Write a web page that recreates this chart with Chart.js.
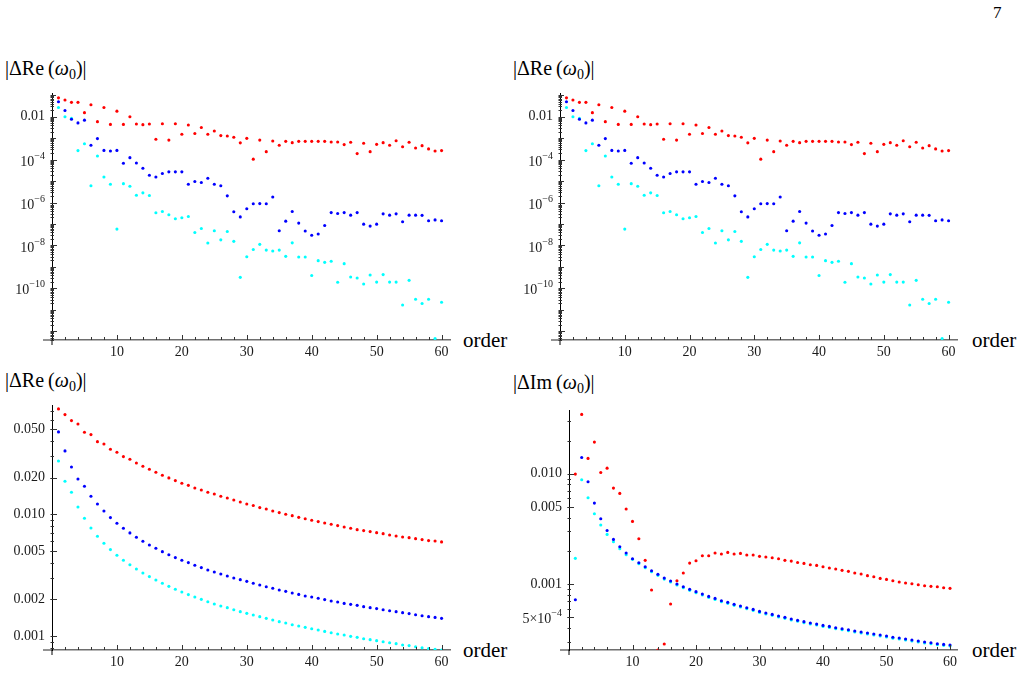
<!DOCTYPE html>
<html>
<head>
<meta charset="utf-8">
<script src="https://cdn.jsdelivr.net/npm/chart.js@4.4.0/dist/chart.umd.min.js"></script>
<style>
  body { margin: 0; background: #fff; width: 1028px; height: 676px; position: relative; overflow: hidden;
         font-family: "Liberation Serif", "DejaVu Serif", serif; color: #000; }
  canvas { position: absolute; }
  .lbl { position: absolute; white-space: nowrap; line-height: 1; }
  .ylab { font-size: 20px; }
  .ylab sub { font-size: 14px; vertical-align: -4px; line-height: 0; }
  .xlab { font-size: 21px; }
</style>
</head>
<body>
<div class="lbl" style="left:993px;top:4px;font-size:17px">7</div>

<div class="lbl ylab" style="left:5px;top:58px">|ΔRe&#8201;(<i>ω</i><sub>0</sub>)|</div>
<div class="lbl ylab" style="left:513px;top:58px">|ΔRe&#8201;(<i>ω</i><sub>0</sub>)|</div>
<div class="lbl ylab" style="left:5px;top:370px">|ΔRe&#8201;(<i>ω</i><sub>0</sub>)|</div>
<div class="lbl ylab" style="left:513px;top:372px">|ΔIm&#8201;(<i>ω</i><sub>0</sub>)|</div>

<div class="lbl xlab" style="left:463px;top:330px">order</div>
<div class="lbl xlab" style="left:972px;top:330px">order</div>
<div class="lbl xlab" style="left:463px;top:640px">order</div>
<div class="lbl xlab" style="left:972px;top:640px">order</div>

<canvas id="tl"></canvas>
<canvas id="tr"></canvas>
<canvas id="bl"></canvas>
<canvas id="br"></canvas>

<script>
// perturbation order on the x axis
const orders = [1,2,3,4,5,6,7,8,9,10,11,12,13,14,15,16,17,18,19,20,
                21,22,23,24,25,26,27,28,29,30,31,32,33,34,35,36,37,38,39,40,
                41,42,43,44,45,46,47,48,49,50,51,52,53,54,55,56,57,58,59,60];

// values are log10 of the plotted quantity

// top row (both top panels show the same points): |ΔRe(ω0)|
const topRed = [-1.12,-1.22,-1.33,-1.33,-1.81,-1.44,-2.23,-1.57,-2.36,-1.74,
                -2.36,-2.00,-2.34,-2.37,-2.34,-3.05,-2.33,-3.09,-2.33,-2.82,
                -2.39,-2.78,-2.50,-2.82,-2.67,-2.88,-2.90,-2.96,-3.22,-3.01,
                -3.98,-3.09,-3.63,-3.13,-3.33,-3.15,-3.21,-3.15,-3.15,-3.15,
                -3.15,-3.15,-3.18,-3.18,-3.30,-3.19,-3.72,-3.24,-3.63,-3.29,
                -3.21,-3.33,-3.12,-3.40,-3.19,-3.46,-3.35,-3.50,-3.60,-3.58];
const topBlue = [-1.30,-1.71,-2.12,-2.29,-2.16,-3.33,-3.02,-3.57,-3.60,-3.57,
                 -4.17,-3.91,-4.16,-4.40,-4.73,-4.81,-4.65,-4.57,-4.57,-4.57,
                 -5.15,-5.02,-5.07,-4.87,-5.15,-5.22,-5.69,-6.43,-6.67,-6.29,
                 -6.06,-6.05,-6.06,-5.74,-7.32,-6.87,-6.42,-6.96,-7.33,-7.53,
                 -7.47,-7.07,-6.47,-6.51,-6.47,-6.59,-6.47,-7.01,-7.10,-7.01,
                 -6.53,-6.59,-6.53,-6.90,-6.59,-6.59,-6.60,-6.85,-6.81,-6.85];
const topCyan = [-1.57,-2.00,-2.08,-3.58,-3.26,-5.22,-3.83,-4.81,-5.15,-7.24,
                 -5.12,-5.24,-5.66,-5.55,-5.67,-6.48,-6.42,-6.57,-6.76,-6.71,
                 -6.65,-7.40,-7.21,-7.89,-7.32,-7.74,-7.35,-7.81,-9.49,-8.53,
                 -8.19,-7.95,-8.22,-8.26,-8.22,-8.51,-7.88,-8.54,-8.54,-9.40,
                 -8.71,-8.79,-8.74,-9.72,-8.85,-9.47,-9.52,-9.80,-9.38,-9.71,
                 -9.36,-9.71,-9.71,-10.78,-9.63,-10.51,-10.71,-10.51,-12.34,-10.65];

// bottom left: |ΔRe(ω0)|
const blRed = [-1.134,-1.181,-1.230,-1.258,-1.326,-1.345,-1.403,-1.422,-1.466,-1.490,
               -1.526,-1.548,-1.578,-1.605,-1.630,-1.655,-1.679,-1.701,-1.723,-1.745,
               -1.762,-1.784,-1.800,-1.819,-1.833,-1.852,-1.866,-1.882,-1.899,-1.915,
               -1.928,-1.945,-1.956,-1.973,-1.986,-2.000,-2.011,-2.025,-2.036,-2.049,
               -2.060,-2.071,-2.082,-2.093,-2.104,-2.115,-2.126,-2.134,-2.142,-2.151,
               -2.159,-2.170,-2.178,-2.186,-2.192,-2.200,-2.208,-2.216,-2.219,-2.227];
const blBlue = [-1.323,-1.479,-1.611,-1.710,-1.770,-1.852,-1.915,-1.973,-2.027,-2.074,
                -2.115,-2.153,-2.189,-2.222,-2.252,-2.279,-2.307,-2.332,-2.356,-2.378,
                -2.397,-2.419,-2.438,-2.458,-2.474,-2.490,-2.507,-2.523,-2.537,-2.551,
                -2.567,-2.581,-2.595,-2.608,-2.622,-2.633,-2.647,-2.658,-2.671,-2.679,
                -2.690,-2.701,-2.712,-2.721,-2.732,-2.740,-2.748,-2.759,-2.767,-2.775,
                -2.784,-2.792,-2.800,-2.808,-2.816,-2.825,-2.833,-2.841,-2.847,-2.855];
const blCyan = [-1.562,-1.729,-1.819,-1.940,-2.033,-2.112,-2.181,-2.238,-2.290,-2.337,
                -2.378,-2.414,-2.449,-2.482,-2.512,-2.540,-2.567,-2.592,-2.616,-2.638,
                -2.660,-2.679,-2.699,-2.718,-2.737,-2.753,-2.767,-2.784,-2.800,-2.814,
                -2.827,-2.841,-2.855,-2.868,-2.882,-2.893,-2.907,-2.918,-2.929,-2.940,
                -2.951,-2.962,-2.973,-2.984,-2.992,-3.003,-3.011,-3.022,-3.030,-3.038,
                -3.047,-3.055,-3.063,-3.074,-3.079,-3.088,-3.096,-3.104,-3.110,-3.115];

// bottom right: |ΔIm(ω0)|
const brRed = [-2.003,-1.462,-1.861,-1.713,-1.988,-1.949,-2.130,-2.178,-2.320,-2.432,
               -2.589,-2.785,-3.054,-3.598,-3.544,-3.181,-2.970,-2.900,-2.810,-2.789,
               -2.743,-2.743,-2.719,-2.728,-2.713,-2.728,-2.722,-2.737,-2.737,-2.749,
               -2.755,-2.761,-2.770,-2.785,-2.792,-2.804,-2.813,-2.825,-2.831,-2.843,
               -2.855,-2.864,-2.876,-2.885,-2.900,-2.909,-2.924,-2.934,-2.949,-2.958,
               -2.970,-2.982,-2.991,-2.997,-3.006,-3.015,-3.021,-3.024,-3.033,-3.039];
const brBlue = [-3.142,-1.852,-2.073,-2.266,-2.408,-2.514,-2.595,-2.662,-2.719,-2.770,
                -2.807,-2.843,-2.879,-2.912,-2.946,-2.973,-3.000,-3.024,-3.048,-3.069,
                -3.091,-3.112,-3.130,-3.151,-3.166,-3.184,-3.199,-3.215,-3.230,-3.248,
                -3.263,-3.275,-3.290,-3.302,-3.317,-3.329,-3.341,-3.353,-3.363,-3.375,
                -3.384,-3.396,-3.405,-3.414,-3.426,-3.435,-3.444,-3.453,-3.462,-3.471,
                -3.483,-3.489,-3.498,-3.508,-3.517,-3.526,-3.532,-3.541,-3.547,-3.553];
const brCyan = [-2.767,-2.054,-2.218,-2.363,-2.465,-2.550,-2.616,-2.680,-2.734,-2.776,
                -2.815,-2.852,-2.889,-2.921,-2.955,-2.982,-3.009,-3.033,-3.057,-3.078,
                -3.100,-3.121,-3.139,-3.160,-3.175,-3.193,-3.208,-3.224,-3.239,-3.257,
                -3.272,-3.284,-3.299,-3.311,-3.326,-3.338,-3.350,-3.362,-3.372,-3.384,
                -3.393,-3.405,-3.414,-3.423,-3.435,-3.444,-3.453,-3.462,-3.471,-3.480,
                -3.492,-3.498,-3.507,-3.517,-3.526,-3.535,-3.541,-3.550,-3.556,-3.562];

// tick labels: a plain string, or [base, superscript]
const xTicks = [10, 20, 30, 40, 50, 60];
const topYTicks = [1e-2, 1e-4, 1e-6, 1e-8, 1e-10];
const topYLabels = ["0.01", ["10", "\u22124"], ["10", "\u22126"], ["10", "\u22128"], ["10", "\u221210"]];
const blYTicks = [0.05, 0.02, 0.01, 0.005, 0.002, 0.001];
const blYLabels = ["0.050", "0.020", "0.010", "0.005", "0.002", "0.001"];
const brYTicks = [0.01, 0.005, 0.001, 5e-4];
const brYLabels = ["0.010", "0.005", "0.001", ["5\u00d710", "\u22124"]];

const RED = "#ff0000", BLUE = "#0000ff", CYAN = "#00ffff";
const SERIF = '"Liberation Serif", "DejaVu Serif", serif';

function toPoints(exps) {
  return exps.map((e, i) => ({ x: orders[i], y: Math.pow(10, e) }));
}

// minor log ticks 2..9 x 10^k inside [lo, hi]
function logMinor(lo, hi) {
  const out = [];
  for (let k = Math.floor(Math.log10(lo)); k <= Math.ceil(Math.log10(hi)); k++) {
    for (let m = 2; m <= 9; m++) {
      const v = m * Math.pow(10, k);
      if (v >= lo && v <= hi) out.push(v);
    }
  }
  return out;
}

// Mathematica-style axes: ticks pointing into the plot, crossed corner, superscript labels
const mmaAxes = {
  id: "mmaAxes",
  afterDraw(chart, args, opts) {
    const { ctx, chartArea: a, scales } = chart;
    const x = scales.x, y = scales.y;
    ctx.save();

    // little overshoot of both axes at the corner
    ctx.lineWidth = 1.5;
    ctx.strokeStyle = "#6e6e6e";
    ctx.beginPath();
    ctx.moveTo(a.left - 9, a.bottom);
    ctx.lineTo(a.left, a.bottom);
    ctx.stroke();
    ctx.lineWidth = 1;
    ctx.strokeStyle = "#000";
    ctx.beginPath();
    ctx.moveTo(a.left, a.bottom);
    ctx.lineTo(a.left, a.bottom + 5);
    ctx.stroke();

    ctx.strokeStyle = "#333";
    ctx.beginPath();
    for (let v = 2; v <= 60; v += 2) {
      const px = Math.round(x.getPixelForValue(v)) + 0.5;
      const len = v % 10 === 0 ? 5 : 3;
      ctx.moveTo(px, a.bottom);
      ctx.lineTo(px, a.bottom - len);
    }
    const tick = (v, len) => {
      const py = Math.round(y.getPixelForValue(v)) + 0.5;
      ctx.moveTo(a.left - 1.5, py);
      ctx.lineTo(a.left + len, py);
    };
    opts.major.forEach(v => tick(v, 5));
    (opts.mid || []).forEach(v => tick(v, 4));
    opts.minor.forEach(v => tick(v, 2));
    ctx.stroke();

    // y tick labels
    ctx.fillStyle = "#1a1a1a";
    ctx.textBaseline = "middle";
    ctx.textAlign = "left";
    opts.ticks.forEach((v, i) => {
      const lab = opts.labels[i];
      const py = y.getPixelForValue(v);
      const right = a.left - 7;
      if (typeof lab === "string") {
        ctx.font = "14px " + SERIF;
        ctx.fillText(lab, right - ctx.measureText(lab).width, py);
      } else {
        ctx.font = "10px " + SERIF;
        const sw = ctx.measureText(lab[1]).width;
        ctx.font = "14px " + SERIF;
        const bw = ctx.measureText(lab[0]).width;
        ctx.fillText(lab[0], right - sw - bw, py + 2.5);
        ctx.font = "10px " + SERIF;
        ctx.fillText(lab[1], right - sw, py - 3.5);
      }
    });
    ctx.restore();
  }
};

function makePanel(id, p) {
  const YW = 60, XH = 26, PT = 14, PR = 14;
  const cv = document.getElementById(id);
  cv.width = p.r - p.l + YW + PR;
  cv.height = p.b - p.t + PT + XH;
  cv.style.left = (p.l - YW) + "px";
  cv.style.top = (p.t - PT) + "px";

  const ds = (vals, color) => ({
    data: toPoints(vals),
    backgroundColor: color,
    pointBackgroundColor: color,
    pointBorderWidth: 0,
    pointRadius: 1.55,
    pointHoverRadius: 1.55
  });

  const yMin = Math.pow(10, p.yMin), yMax = Math.pow(10, p.yMax);

  return new Chart(cv, {
    type: "scatter",
    data: { datasets: [ds(p.red, RED), ds(p.blue, BLUE), ds(p.cyan, CYAN)] },
    options: {
      responsive: false,
      animation: false,
      devicePixelRatio: 1,
      layout: { padding: { left: 0, top: PT, right: PR, bottom: 0 } },
      plugins: {
        legend: { display: false },
        tooltip: { enabled: false },
        mmaAxes: { ticks: p.yTicks, labels: p.yLabels, major: p.major, mid: p.mid,
                   minor: logMinor(yMin, yMax) }
      },
      scales: {
        x: {
          type: "linear", min: 0, max: p.xMax, bounds: "data",
          grid: { display: false, drawTicks: false },
          border: { display: true, color: "#6e6e6e", width: 1.5 },
          afterBuildTicks: s => { s.ticks = xTicks.map(v => ({ value: v })); },
          afterFit: s => { s.height = XH; },
          ticks: { autoSkip: false, maxRotation: 0, padding: 4, color: "#1a1a1a",
                   font: { family: SERIF, size: 14 }, callback: v => String(v) }
        },
        y: {
          type: "logarithmic", min: yMin, max: yMax, bounds: "data",
          grid: { display: false, drawTicks: false },
          border: { display: true, color: "#000", width: 1 },
          afterBuildTicks: s => { s.ticks = p.yTicks.map(v => ({ value: v })); },
          afterFit: s => { s.width = YW; },
          ticks: { display: false }
        }
      }
    },
    plugins: [mmaAxes]
  });
}

const topMajor = [1e-2, 1e-4, 1e-6, 1e-8, 1e-10, 1e-12];
const topMid = [1e-1, 1e-3, 1e-5, 1e-7, 1e-9, 1e-11];

makePanel("tl", { l: 52, t: 93, r: 450, b: 340, xMax: 61.3, yMin: -12.41, yMax: -0.895,
  red: topRed, blue: topBlue, cyan: topCyan, yTicks: topYTicks, yLabels: topYLabels,
  major: topMajor, mid: topMid });
makePanel("tr", { l: 560, t: 93, r: 957, b: 340, xMax: 61.3, yMin: -12.41, yMax: -0.895,
  red: topRed, blue: topBlue, cyan: topCyan, yTicks: topYTicks, yLabels: topYLabels,
  major: topMajor, mid: topMid });
makePanel("bl", { l: 52, t: 405, r: 450, b: 650, xMax: 61.3, yMin: -3.115, yMax: -1.102,
  red: blRed, blue: blBlue, cyan: blCyan, yTicks: blYTicks, yLabels: blYLabels,
  major: blYTicks });
makePanel("br", { l: 569, t: 410, r: 957, b: 650, xMax: 61.1, yMin: -3.598, yMax: -1.422,
  red: brRed, blue: brBlue, cyan: brCyan, yTicks: brYTicks, yLabels: brYLabels,
  major: brYTicks });
</script>
</body>
</html>
